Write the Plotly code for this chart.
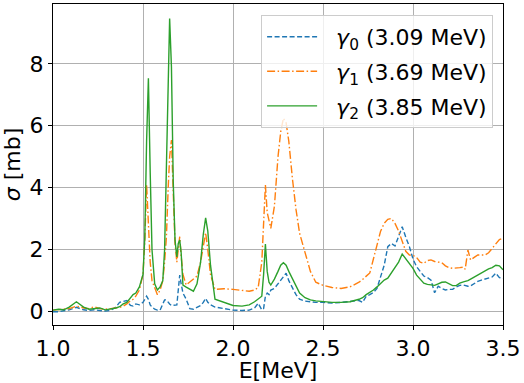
import plotly.graph_objects as go

E = [1.00, 1.03, 1.06, 1.09, 1.13, 1.17, 1.20, 1.23, 1.26, 1.29,
     1.32, 1.35, 1.37, 1.39, 1.41, 1.43, 1.445, 1.46, 1.48, 1.50,
     1.51, 1.52, 1.53, 1.54, 1.55, 1.565, 1.58, 1.595, 1.61, 1.62,
     1.63, 1.64, 1.648, 1.658, 1.668, 1.678, 1.688, 1.696, 1.704, 1.712,
     1.722, 1.74, 1.76, 1.78, 1.80, 1.82, 1.835, 1.848, 1.86, 1.875,
     1.90, 1.95, 2.00, 2.05, 2.09, 2.12, 2.14, 2.16, 2.17, 2.18,
     2.19, 2.20, 2.21, 2.23, 2.25, 2.265, 2.28, 2.295, 2.31, 2.33,
     2.35, 2.37, 2.40, 2.43, 2.46, 2.50, 2.55, 2.60, 2.65, 2.70,
     2.72, 2.74, 2.76, 2.78, 2.80, 2.82, 2.84, 2.86, 2.88, 2.90,
     2.92, 2.94, 2.96, 2.98, 3.00, 3.02, 3.04, 3.06, 3.08, 3.10,
     3.12, 3.14, 3.16, 3.18, 3.20, 3.22, 3.24, 3.26, 3.28, 3.29,
     3.305, 3.32, 3.34, 3.36, 3.38, 3.40, 3.42, 3.44, 3.46, 3.48,
     3.50]

gamma0 = [0.00, 0.00, 0.03, 0.06, 0.14, 0.06, 0.04, 0.06, 0.04, 0.02,
          0.04, 0.15, 0.30, 0.32, 0.36, 0.20, 0.18, 0.25, 0.22, 0.30,
          0.40, 0.50, 0.40, 0.22, 0.15, 0.08, 0.05, 0.05, 0.25, 0.38,
          0.38, 0.30, 0.25, 0.20, 0.20, 0.20, 0.22, 0.70, 1.18, 0.90,
          0.60, 0.40, 0.10, 0.08, 0.15, 0.20, 0.30, 0.43, 0.30, 0.22,
          0.15, 0.10, 0.05, 0.04, 0.05, 0.12, 0.27, 0.06, 0.10, 0.50,
          0.60, 0.55, 0.70, 0.75, 0.90, 1.05, 1.15, 1.24, 1.00, 0.75,
          0.55, 0.40, 0.34, 0.32, 0.30, 0.30, 0.28, 0.30, 0.32, 0.36,
          0.30, 0.50, 0.55, 0.62, 0.75, 1.10, 1.50, 2.10, 2.20, 2.12,
          2.40, 2.74, 2.40, 2.10, 1.70, 1.45, 1.30, 1.15, 1.10, 1.02,
          0.61, 0.82, 0.75, 0.70, 0.72, 0.72, 0.80, 0.85, 0.86, 0.84,
          0.82, 0.83, 0.90, 0.98, 1.02, 1.05, 1.08, 1.12, 1.24, 1.10,
          1.08]

gamma1 = [0.05, 0.06, 0.07, 0.10, 0.18, 0.12, 0.10, 0.16, 0.10, 0.08,
          0.10, 0.12, 0.14, 0.18, 0.25, 0.35, 0.40, 0.50, 0.70, 1.20,
          2.30, 4.10, 3.00, 1.60, 1.00, 0.75, 0.55, 0.70, 1.00, 1.60,
          2.40, 4.00, 5.00, 5.54, 3.60, 2.20, 1.60, 2.00, 2.42, 1.80,
          1.20, 0.86, 0.95, 1.05, 1.15, 1.60, 2.10, 2.55, 2.00, 1.20,
          0.72, 0.74, 0.72, 0.70, 0.66, 0.70, 0.78, 1.60, 2.80, 4.09,
          3.20, 2.90, 2.69, 3.40, 5.00, 5.80, 6.24, 6.10, 5.50, 4.30,
          3.30, 2.53, 1.90, 1.30, 0.95, 0.85, 0.78, 0.75, 0.80, 0.95,
          1.04, 1.15, 1.25, 1.70, 2.20, 2.60, 2.85, 2.98, 3.01, 2.85,
          2.60, 2.30, 1.95, 1.83, 1.82, 1.75, 1.60, 1.56, 1.65, 1.67,
          1.62, 1.60, 1.58, 1.48, 1.42, 1.40, 1.40, 1.42, 1.44, 1.37,
          1.99, 1.67, 1.75, 1.83, 1.83, 1.83, 1.90, 2.05, 2.20, 2.33,
          2.37]

gamma2 = [0.05, 0.08, 0.06, 0.15, 0.32, 0.15, 0.08, 0.10, 0.12, 0.06,
          0.08, 0.12, 0.16, 0.25, 0.30, 0.45, 0.55, 0.60, 0.80, 1.20,
          2.40, 5.50, 7.53, 4.50, 2.00, 0.90, 0.70, 0.80, 1.00, 2.00,
          4.60, 8.00, 9.46, 7.90, 4.20, 2.30, 1.77, 2.20, 2.31, 1.90,
          0.86, 0.79, 0.72, 0.66, 0.90, 1.60, 2.50, 3.03, 2.60, 1.50,
          0.40, 0.30, 0.20, 0.18, 0.22, 0.32, 0.40, 0.50, 1.20, 2.18,
          1.30, 0.95, 0.86, 1.05, 1.30, 1.50, 1.58, 1.50, 1.30, 1.05,
          0.80, 0.60, 0.45, 0.38, 0.35, 0.33, 0.30, 0.30, 0.32, 0.40,
          0.45, 0.55, 0.62, 0.70, 0.80, 0.92, 1.02, 1.08, 1.25, 1.40,
          1.60, 1.86, 1.70, 1.56, 1.40, 1.18, 1.05, 0.92, 0.88, 0.86,
          0.85, 0.90, 0.95, 0.96, 0.90, 0.84, 0.84, 0.92, 0.96, 0.97,
          1.00, 1.05, 1.12, 1.18, 1.25, 1.33, 1.38, 1.42, 1.50, 1.48,
          1.35]

names = ["<i>γ</i><sub>0</sub> (3.09 MeV)",
         "<i>γ</i><sub>1</sub> (3.69 MeV)",
         "<i>γ</i><sub>2</sub> (3.85 MeV)"]
x_ticks = [1.0, 1.5, 2.0, 2.5, 3.0, 3.5]
y_ticks = [0, 2, 4, 6, 8]

FONT = "DejaVu Sans"
FS = 22
PAD = "\u00a0\u00a0"

fig = go.Figure()
fig.add_trace(go.Scatter(x=E, y=gamma0, mode="lines", name=PAD + names[0], legendgroup="g0",
                         line=dict(color="#1f77b4", width=1.4, dash="5px,2.5px")))
fig.add_trace(go.Scatter(x=E, y=gamma1, mode="lines", name=PAD + names[1], legendgroup="g1",
                         line=dict(color="#ff7f0e", width=1.4, dash="8px,2.5px,1.5px,2.5px")))
fig.add_trace(go.Scatter(x=E, y=gamma2, mode="lines", name=PAD + names[2], legendgroup="g2",
                         line=dict(color="#2ca02c", width=1.4)))

axis_common = dict(showline=True, linecolor="black", linewidth=1, mirror=True,
                   ticks="outside", ticklen=4, tickcolor="black", automargin=False,
                   showgrid=True, gridcolor="#b0b0b0", gridwidth=1,
                   zeroline=False, tickfont=dict(family=FONT, size=FS, color="black"))

fig.update_layout(
    width=524, height=383,
    margin=dict(l=53, r=21, t=4, b=58),
    paper_bgcolor="white", plot_bgcolor="white",
    font=dict(family=FONT, size=FS, color="black"),
    xaxis=dict(range=[1.0, 3.5], tickvals=x_ticks, ticktext=[f"{v:.1f}" for v in x_ticks],
               title=dict(text="E[MeV]", font=dict(family=FONT, size=FS), standoff=0),
               **axis_common),
    yaxis=dict(range=[-0.43, 9.93], tickvals=y_ticks, ticktext=[str(v) for v in y_ticks],
               title=dict(text="<i>σ</i> [mb]", font=dict(family=FONT, size=FS), standoff=6),
               **axis_common),
    legend=dict(x=0.978, y=0.966, xanchor="right", yanchor="top",
                bgcolor="rgba(255,255,255,0.8)", bordercolor="#cccccc", borderwidth=1,
                font=dict(family=FONT, size=FS), tracegroupgap=3, itemwidth=50),
    showlegend=True,
)

fig.write_html("out.html", config={"displayModeBar": False},
               post_script="document.body.style.margin='0';document.body.style.padding='0';")
